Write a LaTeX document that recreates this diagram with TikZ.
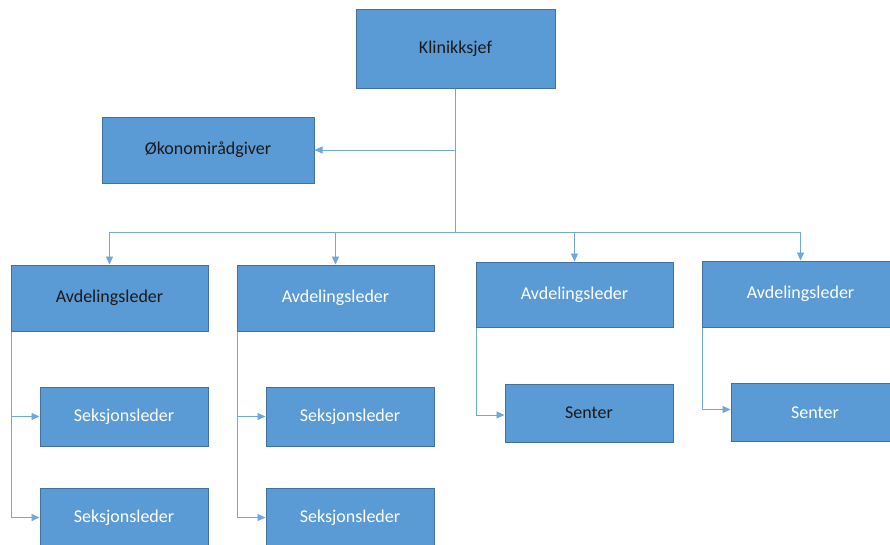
\documentclass[tikz,border=0pt]{standalone}
\usepackage{fontspec}
\setmainfont{Carlito}
\usetikzlibrary{arrows.meta}
\definecolor{boxfill}{HTML}{5B9BD5}
\definecolor{boxline}{HTML}{41719C}
\definecolor{linkc}{HTML}{6FA8DC}
\definecolor{darktext}{HTML}{1A1A1A}
\begin{document}
\begin{tikzpicture}[x=1pt,y=-1pt,
  box/.style={draw=boxline, line width=1pt, fill=boxfill, inner sep=0pt,
    font=\fontsize{18}{20}\selectfont, text=white},
  dark/.style={text=darktext},
  big/.style={minimum width=197pt, minimum height=66pt},
  small/.style={minimum width=168pt, minimum height=59pt},
  link/.style={draw=linkc, line width=0.9pt},
  arr/.style={link, -{Triangle[length=8pt,width=7pt]}}]
\useasboundingbox (0,0) rectangle (890,544);
\clip (0,0) rectangle (890,544);
\fill[white] (0,0) rectangle (890,544);

\node[box, dark, minimum width=199pt, minimum height=79pt] (k) at (455.5,48.5) {Klinikksjef};
\node[box, dark, minimum width=212pt, minimum height=66pt] (oko) at (208,150) {Økonomirådgiver};

\node[box, dark, big] (a1) at (109.5,298) {Avdelingsleder};
\node[box, big] (a2) at (335.5,298) {Avdelingsleder};
\node[box, big, minimum height=65pt] (a3) at (574.5,294.5) {Avdelingsleder};
\node[box, big] (a4) at (800.5,294) {Avdelingsleder};

\node[box, small] (s1) at (124,416.5) {Seksjonsleder};
\node[box, small] (s2) at (124,517.5) {Seksjonsleder};
\node[box, small] (s3) at (350,416.5) {Seksjonsleder};
\node[box, small] (s4) at (350,517.5) {Seksjonsleder};

\node[box, dark, small, minimum height=58pt] (c1) at (589,413) {Senter};
\node[box, small, minimum height=58pt] (c2) at (815,412.5) {Senter};

\coordinate (bus) at (455.5,232);
\draw[link] (k.south) -- (bus);
\draw[arr] (k.south |- oko.east) -- (oko.east);
\draw[link] (bus -| a1) -- (bus -| a4);
\foreach \n in {a1,a2,a3,a4}{
  \draw[arr] (bus -| \n) -- (\n.north);
}
\draw[arr] ([xshift=1pt]a1.south west) |- (s1.west);
\draw[arr] ([xshift=1pt]a1.south west) |- (s2.west);
\draw[arr] ([xshift=1pt]a2.south west) |- (s3.west);
\draw[arr] ([xshift=1pt]a2.south west) |- (s4.west);
\draw[arr] ([xshift=1pt]a3.south west) |- ([yshift=-2pt]c1.west);
\draw[arr] ([xshift=1pt]a4.south west) |- ([yshift=3pt]c2.west);
\end{tikzpicture}
\end{document}
